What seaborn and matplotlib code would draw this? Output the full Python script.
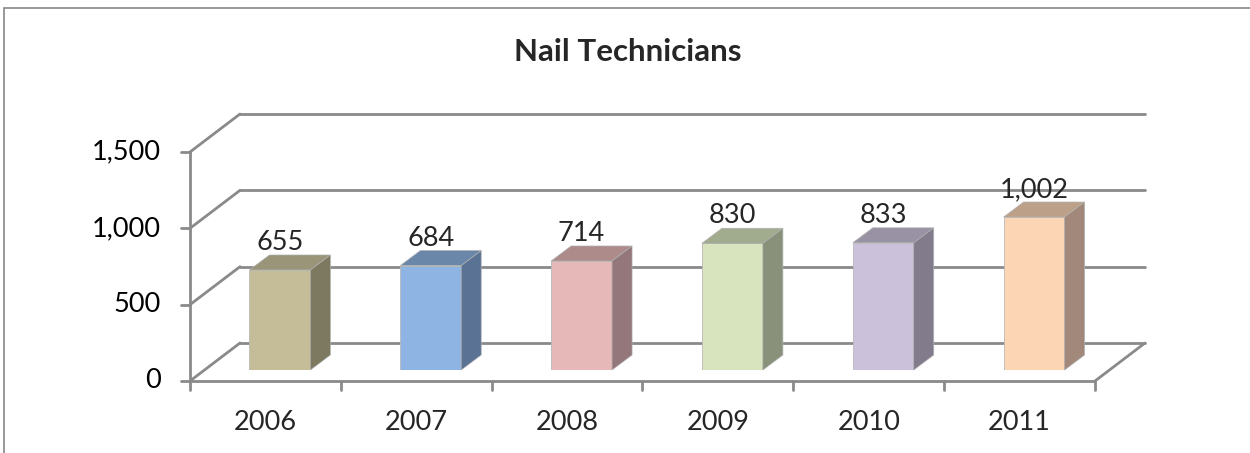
import matplotlib
matplotlib.use('Agg')
import matplotlib.pyplot as plt
import matplotlib.transforms as mtransforms
from matplotlib.patches import Polygon, Rectangle
import seaborn as sns
import pandas as pd

years = ['2006', '2007', '2008', '2009', '2010', '2011']
counts = [655, 684, 714, 830, 833, 1002]
y_ticks = [0, 500, 1000, 1500]
y_labels = ['0', '500', '1,000', '1,500']

front_colors = ['#C4BD97', '#8EB4E3', '#E6B9B8', '#D7E4BD', '#CCC1DA', '#FCD5B5']
top_colors = ['#9A9478', '#6A87AA', '#AC8B8A', '#A1AB8E', '#9991A4', '#BDA088']
side_colors = ['#7D7960', '#5A7394', '#93777A', '#89917A', '#827B8B', '#A1887A']

sns.set_style('white')
plt.rcParams['font.family'] = ['Lato', 'DejaVu Sans']

W, H = 1250, 453
fig = plt.figure(figsize=(12.5, 4.53), dpi=100)
ax = fig.add_axes([204.5 / W, 83 / H, 905 / W, 229 / H])

df = pd.DataFrame({'year': years, 'count': counts})
sns.barplot(data=df, x='year', y='count', hue='year', palette=front_colors,
            saturation=1, width=0.404, legend=False, ax=ax, edgecolor='#b8b8b8',
            linewidth=0.6, zorder=3)
ax.set_xlim(-0.5, 5.5)
ax.set_ylim(0, 1500)
ax.axis('off')


def shifted(dx, dy):
    # pixel offset of a depth plane relative to the bar plane
    return ax.transData + mtransforms.ScaledTranslation(dx / 100, dy / 100, fig.dpi_scale_trans)


front = shifted(-14.5, -11)
back = shifted(35.5, 27)
grid = '#8a8a8a'
ident = mtransforms.IdentityTransform()
fs = 19.5

# back wall gridlines + left wall diagonals
for v, lab in zip(y_ticks, y_labels):
    ax.plot([-0.5, 5.5], [v, v], transform=back, color=grid, lw=2, clip_on=False, zorder=1)
    p0 = front.transform((-0.5, v))
    p1 = back.transform((-0.5, v))
    ax.plot([p0[0], p1[0]], [p0[1], p1[1]], transform=ident, color=grid, lw=2, clip_on=False, zorder=1)
    ax.plot([p0[0] - 9, p0[0]], [p0[1], p0[1]], transform=ident, color=grid, lw=2, clip_on=False, zorder=2)
    ax.text(-0.5, v, lab, transform=shifted(-14.5 - 29, -11), ha='right', va='center',
            fontsize=fs, color='black')

# floor right edge
p0 = front.transform((5.5, 0))
p1 = back.transform((5.5, 0))
ax.plot([p0[0], p1[0]], [p0[1], p1[1]], transform=ident, color=grid, lw=2, clip_on=False, zorder=1)

# front axes
ax.plot([-0.5, -0.5], [0, 1500], transform=front, color=grid, lw=2, clip_on=False, zorder=2)
ax.plot([-0.5, 5.5], [0, 0], transform=front, color=grid, lw=2, clip_on=False, zorder=2)
for k in range(len(years) + 1):
    p = front.transform((k - 0.5, 0))
    ax.plot([p[0], p[0]], [p[1], p[1] - 9], transform=ident, color=grid, lw=2, clip_on=False, zorder=2)
for i, yr in enumerate(years):
    ax.text(i, 0, yr, transform=shifted(-14.5, -11 - 41), ha='center', va='center', fontsize=fs)

# 3D faces of the bars
dx, dy = 20, 15
for p in ax.patches:
    x0, w, h = p.get_x(), p.get_width(), p.get_height()
    i = int(round(x0 + w / 2))
    tl = ax.transData.transform((x0, h))
    tr = ax.transData.transform((x0 + w, h))
    br = ax.transData.transform((x0 + w, 0))
    top = [tl, tr, (tr[0] + dx, tr[1] + dy), (tl[0] + dx, tl[1] + dy)]
    side = [br, tr, (tr[0] + dx, tr[1] + dy), (br[0] + dx, br[1] + dy)]
    ax.add_patch(Polygon(top, closed=True, transform=ident, facecolor=top_colors[i],
                         edgecolor='#b0b0b0', lw=0.5, clip_on=False, zorder=3))
    ax.add_patch(Polygon(side, closed=True, transform=ident, facecolor=side_colors[i],
                         edgecolor='#b0b0b0', lw=0.5, clip_on=False, zorder=3))

# data labels
for i, v in enumerate(counts):
    ax.annotate(f'{v:,}', (i, v), xytext=(0, 14.4), textcoords='offset points',
                ha='center', va='baseline', fontsize=fs, zorder=5)

fig.text(628 / W, 1 - 52 / H, 'Nail Technicians', ha='center', va='center',
         fontsize=22.5, fontweight='bold')

fig.add_artist(Rectangle((4 / W, -0.1), 1.1, 1 - 8 / H + 0.1, transform=fig.transFigure,
                         fill=False, edgecolor='#888888', lw=1.2))

fig.savefig('out.png', dpi=100)
